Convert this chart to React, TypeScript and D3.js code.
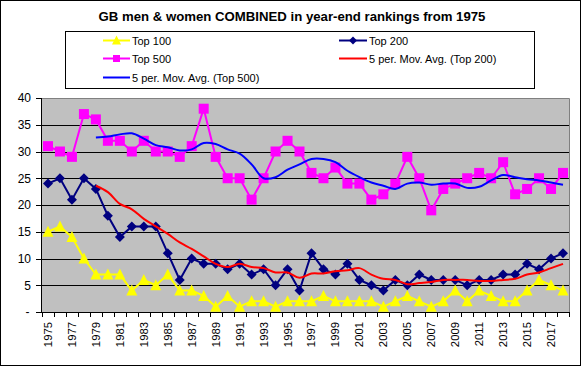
import * as d3 from "d3";

const years = d3.range(1975, 2019);
const top100 = [15, 16, 14, 10, 7, 7, 7, 4, 6, 5, 7, 4, 4, 3, 1, 3, 1, 2, 2, 1, 2, 2, 2, 3, 2, 2, 2, 2, 1, 2, 3, 2, 1, 2, 4, 2, 4, 3, 2, 2, 4, 6, 5, 4];
const top200 = [24, 25, 21, 25, 23, 18, 14, 16, 16, 16, 11, 6, 10, 9, 9, 8, 9, 7, 8, 5, 8, 4, 11, 8, 7, 9, 6, 5, 4, 6, 5, 7, 6, 6, 6, 5, 6, 6, 7, 7, 9, 8, 10, 11];
const top500 = [31, 30, 29, 37, 36, 32, 32, 30, 32, 30, 30, 29, 31, 38, 29, 25, 25, 21, 25, 30, 32, 30, 26, 25, 27, 24, 24, 21, 22, 24, 29, 25, 19, 23, 24, 25, 26, 25, 28, 22, 23, 25, 23, 26];
const yTicks = [0, 5, 10, 15, 20, 25, 30, 35, 40];
const xLabels = years.filter((y) => (y - 1975) % 2 === 0);

const W = 584;
const H = 367;
const left = 42;
const right = 569;
const top = 98;
const bottom = 312;
const font = "'Liberation Sans', Arial, sans-serif";

// Excel "5 per. Mov. Avg." trendline: trailing mean of 5 points
function movAvg(vals: number[], n = 5) {
  return vals
    .map((v, i) => (i < n - 1 ? null : { i, v: d3.mean(vals.slice(i - n + 1, i + 1)) as number }))
    .filter((d) => d !== null) as { i: number; v: number }[];
}

export default function App() {
  const x = d3.scaleBand<number>().domain(years).range([left, right]);
  const y = d3.scaleLinear().domain([0, 40]).range([bottom, top]);
  const cx = (yr: number) => (x(yr) as number) + x.bandwidth() / 2;

  const line = d3
    .line<number>()
    .x((_, i) => cx(years[i]))
    .y((d) => y(d));
  const maLine = d3
    .line<{ i: number; v: number }>()
    .x((d) => cx(years[d.i]))
    .y((d) => y(d.v))
    .curve(d3.curveCatmullRom);

  const ma200 = movAvg(top200);
  const ma500 = movAvg(top500);

  const square = (px: number, py: number, s = 9) => (
    <rect x={px - s / 2} y={py - s / 2} width={s} height={s} fill="#FF00FF" />
  );
  const diamond = (px: number, py: number, r = 5) => (
    <path d={`M${px},${py - r}L${px + r},${py}L${px},${py + r}L${px - r},${py}Z`} fill="#000080" />
  );
  const triangle = (px: number, py: number, w = 11, h = 10) => (
    <path
      d={`M${px},${py - h / 2 - 1}L${px + w / 2},${py + h / 2}L${px - w / 2},${py + h / 2}Z`}
      fill="#FFFF00"
    />
  );

  const boundaries = years.map((yr) => x(yr) as number).concat([right]);

  return (
    <svg width={W} height={H} style={{ position: "absolute", left: 0, top: 0 }} fontFamily={font}>
      <rect x={0} y={0} width={W} height={H} fill="#fff" />
      <rect x={0.5} y={0.5} width={580} height={365} fill="#fff" stroke="#000" />

      <text x={292} y={21} textAnchor="middle" fontSize={13.2} fontWeight="bold">
        GB men &amp; women COMBINED in year-end rankings from 1975
      </text>

      {/* legend */}
      <g fontSize={11}>
        <rect x={65.5} y={31.5} width={469} height={57} fill="#fff" stroke="#000" />
        <line x1={103} x2={130} y1={40.5} y2={40.5} stroke="#FFFF00" strokeWidth={2} />
        {triangle(116.5, 40.5, 9, 8)}
        <text x={132} y={44.5}>Top 100</text>
        <line x1={339} x2={367} y1={40.5} y2={40.5} stroke="#000080" strokeWidth={2} />
        {diamond(353, 40.5, 4)}
        <text x={369} y={44.5}>Top 200</text>
        <line x1={103} x2={130} y1={58.5} y2={58.5} stroke="#FF00FF" strokeWidth={2} />
        {square(116.5, 58.5, 7)}
        <text x={132} y={62.5}>Top 500</text>
        <line x1={339} x2={367} y1={58.5} y2={58.5} stroke="#FF0000" strokeWidth={2} />
        <text x={369} y={62.5}>5 per. Mov. Avg. (Top 200)</text>
        <line x1={103} x2={130} y1={77.5} y2={77.5} stroke="#0000FF" strokeWidth={2} />
        <text x={132} y={81.5}>5 per. Mov. Avg. (Top 500)</text>
      </g>

      {/* plot area */}
      <rect x={left} y={top} width={right - left} height={bottom - top} fill="#C0C0C0" />
      {yTicks
        .filter((t) => t > 0 && t < 40)
        .map((t) => (
          <line key={t} x1={left} x2={right} y1={Math.round(y(t)) + 0.5} y2={Math.round(y(t)) + 0.5} stroke="#000" />
        ))}
      <path d={`M${left},${top + 0.5}H${right + 0.5}V${bottom}`} fill="none" stroke="#808080" />

      {/* series */}
      <path d={line(top100) as string} fill="none" stroke="#FFFF00" strokeWidth={2} />
      {top100.map((v, i) => <g key={i}>{triangle(cx(years[i]), y(v))}</g>)}
      <path d={line(top200) as string} fill="none" stroke="#000080" strokeWidth={2} />
      {top200.map((v, i) => <g key={i}>{diamond(cx(years[i]), y(v))}</g>)}
      <path d={line(top500) as string} fill="none" stroke="#FF00FF" strokeWidth={2} />
      {top500.map((v, i) => <g key={i}>{square(cx(years[i]), y(v), 10)}</g>)}
      <path d={maLine(ma200) as string} fill="none" stroke="#FF0000" strokeWidth={2} />
      <path d={maLine(ma500) as string} fill="none" stroke="#0000FF" strokeWidth={2} />

      {/* axes */}
      <line x1={left - 0.5} x2={left - 0.5} y1={top} y2={bottom} stroke="#000" />
      <line x1={left - 0.5} x2={right} y1={bottom + 0.5} y2={bottom + 0.5} stroke="#000" />
      {yTicks.map((t) => (
        <g key={t}>
          <line x1={36} x2={left} y1={Math.round(y(t)) + 0.5} y2={Math.round(y(t)) + 0.5} stroke="#000" />
          <text x={t === 0 ? 29.5 : 31} y={y(t) + 4.3} textAnchor="end" fontSize={12}>
            {t === 0 ? "-" : t}
          </text>
        </g>
      ))}
      {boundaries.map((b, i) => (
        <line key={i} x1={Math.round(b) + 0.5} x2={Math.round(b) + 0.5} y1={bottom} y2={317} stroke="#000" />
      ))}
      {xLabels.map((yr) => (
        <text
          key={yr}
          transform={`translate(${cx(yr) + 4},322) rotate(-90)`}
          textAnchor="end"
          fontSize={11.3}
        >
          {yr}
        </text>
      ))}
    </svg>
  );
}
